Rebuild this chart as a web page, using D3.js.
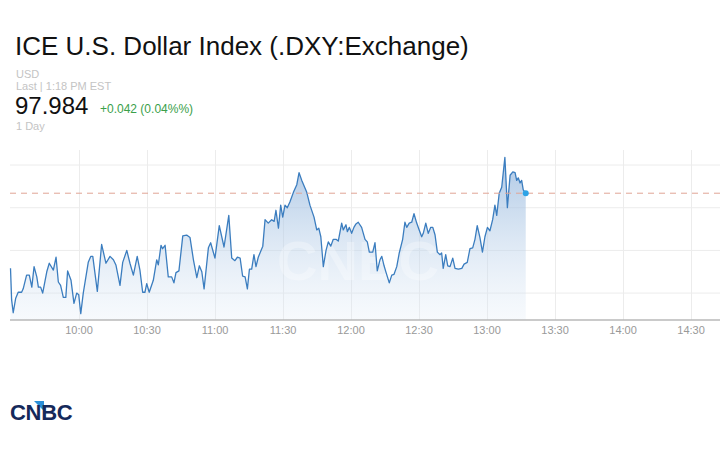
<!DOCTYPE html>
<html>
<head>
<meta charset="utf-8">
<script src="https://cdn.jsdelivr.net/npm/d3@7"></script>
<style>
  body { margin: 0; background: #fff; }
  svg { display: block; font-family: "Liberation Sans", Arial, sans-serif; }
</style>
</head>
<body>
<svg id="chart" width="720" height="450"></svg>
<script>
// minutes after 9:30 and index level
const minutes = [0,0.5,1.2,2.3,3.4,4.9,5.6,7.1,8.3,9.4,10.4,11.6,12.3,13.3,14.2,16.0,17.1,18.9,20.1,21.1,
  22.1,23.3,24.4,25.2,26.7,28.0,29.2,30.1,31.0,32.1,34.3,35.4,36.3,38.3,40.2,42.1,43.9,45.4,46.5,48.3,
  49.5,51.3,52.7,54.2,55.9,57.1,58.3,59.3,60.1,61.2,63.0,64.5,65.2,66.4,67.1,68.2,69.6,71.1,72.1,73.0,
  74.3,76.0,77.7,79.2,80.7,82.2,83.3,84.4,85.4,87.3,88.3,90.2,92.1,94.2,96.3,97.6,99.0,100.1,101.3,102.4,
  103.5,104.5,105.4,106.4,107.4,108.3,109.3,111.3,112.3,113.7,115.2,116.3,117.1,118.2,119.2,120.1,121.1,122.1,123.3,124.8,
  126.3,127.3,128.5,130.7,132.1,133.9,135.1,136.0,136.9,138.0,139.2,140.2,141.3,142.4,143.6,144.6,146.1,146.8,148.0,148.6,
  149.5,150.5,151.5,152.4,153.4,154.9,156.4,157.4,158.3,159.8,160.8,161.8,163.0,163.8,164.8,165.7,167.1,168.2,169.2,170.4,
  171.5,173.0,174.0,174.8,175.9,177.0,178.0,179.2,180.3,181.4,182.1,183.2,184.3,185.4,186.3,187.3,188.3,189.5,190.2,190.9,
  192.0,192.9,193.9,195.1,196.1,197.6,199.1,200.1,201.5,202.7,203.9,204.9,205.9,207.1,208.2,209.3,210.4,211.5,212.7,213.7,
  214.5,215.6,216.7,218.1,219.2,220.4,221.6,222.6,223.3,224.0,224.8,225.5,226.2,227.3];
const levels = [97.879,97.842,97.827,97.844,97.851,97.851,97.855,97.871,97.871,97.857,97.881,97.869,97.857,97.857,97.850,97.875,97.885,97.877,97.892,97.863,
  97.859,97.845,97.845,97.876,97.865,97.838,97.850,97.848,97.826,97.850,97.886,97.893,97.893,97.852,97.907,97.885,97.893,97.889,97.883,97.859,
  97.886,97.900,97.885,97.871,97.893,97.877,97.851,97.851,97.861,97.851,97.865,97.889,97.883,97.906,97.902,97.906,97.869,97.869,97.862,97.874,
  97.876,97.917,97.918,97.915,97.889,97.868,97.882,97.875,97.855,97.903,97.909,97.891,97.929,97.904,97.941,97.891,97.888,97.892,97.891,97.870,
  97.869,97.855,97.878,97.878,97.895,97.881,97.892,97.905,97.936,97.932,97.936,97.934,97.947,97.926,97.953,97.939,97.953,97.950,97.957,97.968,
  97.977,97.991,97.982,97.968,97.953,97.939,97.924,97.926,97.916,97.881,97.900,97.910,97.905,97.913,97.913,97.911,97.932,97.924,97.930,97.922,
  97.927,97.920,97.927,97.931,97.933,97.927,97.913,97.910,97.898,97.898,97.909,97.876,97.889,97.893,97.882,97.874,97.862,97.871,97.872,97.881,
  97.897,97.913,97.933,97.927,97.932,97.933,97.943,97.932,97.924,97.916,97.920,97.932,97.920,97.927,97.927,97.918,97.898,97.895,97.897,97.879,
  97.895,97.882,97.881,97.891,97.879,97.878,97.879,97.884,97.886,97.902,97.903,97.913,97.929,97.915,97.898,97.916,97.927,97.923,97.936,97.953,
  97.941,97.967,97.974,98.009,97.950,97.988,97.992,97.991,97.982,97.985,97.979,97.982,97.971,97.967];
const refLevel = 97.967;               // dashed reference line
const gridLevels = [97.85, 97.90, 97.95, 98.00];
const tickTimes = ["10:00","10:30","11:00","11:30","12:00","12:30","13:00","13:30","14:00","14:30"];

const svg = d3.select("#chart");
const day = "2019-01-02 ";
const parse = d3.timeParse("%Y-%m-%d %H:%M");
const open = parse(day + "09:30");
const data = minutes.map((m, i) => ({ t: new Date(open.getTime() + m * 60000), v: levels[i] }));

const x = d3.scaleTime().domain([open, parse(day + "14:43")]).range([10.5, 720]);
const y = d3.scaleLinear().domain([97.8185, 98.0176]).range([320, 150]);

// header texts
svg.append("text").attr("x", 15).attr("y", 55).attr("font-size", 26).attr("fill", "#111")
  .text("ICE U.S. Dollar Index (.DXY:Exchange)");
svg.append("text").attr("x", 16).attr("y", 78).attr("font-size", 11).attr("fill", "#c4c4c4").text("USD");
svg.append("text").attr("x", 16).attr("y", 90).attr("font-size", 11).attr("fill", "#c4c4c4").text("Last | 1:18 PM EST");
svg.append("text").attr("x", 15).attr("y", 114).attr("font-size", 24).attr("fill", "#111").text("97.984");
svg.append("text").attr("x", 100).attr("y", 113).attr("font-size", 12).attr("fill", "#3aa04a").text("+0.042 (0.04%%)");
svg.append("text").attr("x", 16).attr("y", 129.5).attr("font-size", 11).attr("fill", "#c4c4c4").text("1 Day");

// grid
const g = svg.append("g");
g.selectAll("line.h").data(gridLevels).enter().append("line")
  .attr("x1", 10).attr("x2", 720).attr("y1", d => y(d)).attr("y2", d => y(d))
  .attr("stroke", "#ececec").attr("stroke-width", 1);
const ticks = tickTimes.map(s => parse(day + s));
g.selectAll("line.v").data(ticks).enter().append("line")
  .attr("x1", d => Math.round(x(d)) + 0.5).attr("x2", d => Math.round(x(d)) + 0.5)
  .attr("y1", 150).attr("y2", 320)
  .attr("stroke", "#ececec").attr("stroke-width", 1);

// area gradient
const defs = svg.append("defs");
const grad = defs.append("linearGradient").attr("id", "fillGrad")
  .attr("gradientUnits", "userSpaceOnUse").attr("x1", 0).attr("x2", 0).attr("y1", 155).attr("y2", 320);
grad.append("stop").attr("offset", "0%").attr("stop-color", "#8fb3db").attr("stop-opacity", 0.75);
grad.append("stop").attr("offset", "100%").attr("stop-color", "#dfeaf6").attr("stop-opacity", 0.25);

const area = d3.area().x(d => x(d.t)).y0(320).y1(d => y(d.v));
const line = d3.line().x(d => x(d.t)).y(d => y(d.v));

svg.append("path").datum(data).attr("d", area).attr("fill", "url(#fillGrad)");

// watermark
svg.append("text").attr("x", 358).attr("y", 280).attr("text-anchor", "middle")
  .attr("font-size", 56).attr("font-weight", "bold").attr("fill", "#fff").attr("fill-opacity", 0.3)
  .text("CNBC");

svg.append("path").datum(data).attr("d", line).attr("fill", "none")
  .attr("stroke", "#3b7dbf").attr("stroke-width", 1.3).attr("stroke-linejoin", "round");

// reference dashed line
svg.append("line").attr("x1", 10).attr("x2", 720).attr("y1", y(refLevel)).attr("y2", y(refLevel))
  .attr("stroke", "#e0a595").attr("stroke-width", 1).attr("stroke-dasharray", "6,5");

// last point
const last = data[data.length - 1];
svg.append("circle").attr("cx", x(last.t)).attr("cy", y(last.v)).attr("r", 3).attr("fill", "#2ea3e6");

// bottom axis
const axis = svg.append("g").attr("transform", "translate(0,320)")
  .call(d3.axisBottom(x).tickValues(ticks).tickFormat(d3.timeFormat("%H:%M")).tickSize(0).tickPadding(6));
axis.select(".domain").attr("stroke", "#b8b8b8").attr("stroke-width", 1.5).attr("d", "M10,0H720");
axis.selectAll("text").attr("fill", "#999").attr("font-size", 11)
  .attr("font-family", "'Liberation Sans', Arial, sans-serif");

// CNBC logo
svg.append("path").attr("d", "M34,401 L44,401 L44,411 Z").attr("fill", "#2a8fd8");
svg.append("text").attr("x", 10).attr("y", 420).attr("font-size", 22).attr("font-weight", "bold")
  .attr("fill", "#15295a").attr("letter-spacing", -0.3).text("CNBC");
</script>
</body>
</html>
